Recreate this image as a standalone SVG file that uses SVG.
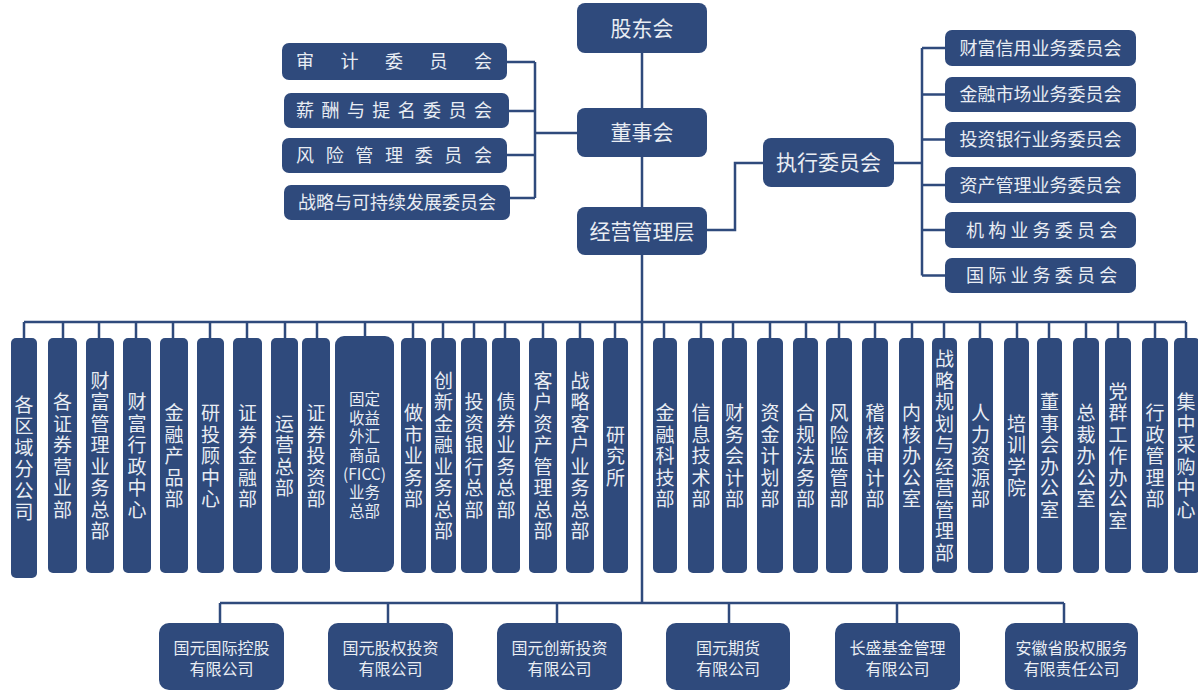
<svg xmlns="http://www.w3.org/2000/svg" width="1198" height="692" viewBox="0 0 1198 692">
<style>
.b{fill:#2f4a7c}
.t{fill:#e9edf3;font-family:"Noto Sans CJK SC","Noto Sans",sans-serif;text-anchor:middle}
.f21{font-size:21px}
.f18{font-size:18px}
.f16{font-size:16px}
.f19{font-size:19px}
.f17{font-size:15.5px}
.c{fill:none;stroke:#2f4a7c;stroke-width:2.5}
</style>
<rect width="1198" height="692" fill="#ffffff"/>
<g id="connectors" class="c">
<path d="M642 53V108M642 157V207M642 255V603"/>
<path d="M577 133H535M535 62V198M507 62H535M509 111H535M507 155H535M510 198H535"/>
<path d="M707 230H735V163H763M894 163H922M922 48V275.5M922 48H945M922 94.5H945M922 139.5H945M922 185H945M922 230H945M922 275.5H945"/>
<path d="M24 322H1186M24 322V338M63 322V338M99 322V338M136 322V338M173 322V338M210 322V338M247 322V338M285 322V338M317 322V338M365 322V336M413 322V338M443 322V338M474 322V338M505 322V338M543 322V338M580 322V338M615 322V338M664 322V338M701 322V338M733 322V338M770 322V338M806 322V338M839 322V338M875 322V338M912 322V338M944 322V338M980 322V338M1017 322V338M1049 322V338M1086 322V338M1118 322V338M1155 322V338M1186 322V338"/>
<path d="M220 603H1064M220 603V623M388 603V623M557 603V623M729 603V623M897 603V623M1064 603V623"/>
</g>
<g id="n-gudong"><rect class="b" x="577" y="3" width="130" height="50" rx="8"/><text class="t f21" x="642" y="36">股东会</text></g>
<g id="n-dongshi"><rect class="b" x="577" y="108" width="130" height="49" rx="8"/><text class="t f21" x="642" y="140">董事会</text></g>
<g id="n-jingying"><rect class="b" x="577" y="207" width="130" height="48" rx="8"/><text class="t f21" x="642" y="239">经营管理层</text></g>
<g id="n-zhixing"><rect class="b" x="763" y="138" width="131" height="49" rx="8"/><text class="t f21" x="828.5" y="170">执行委员会</text></g>

<g id="n-shenji"><rect class="b" x="282" y="43" width="225" height="37" rx="7"/><text class="t f18" x="305 349.5 394 438.5 483" y="67.5">审计委员会</text></g>
<g id="n-xinchou"><rect class="b" x="284" y="93" width="225" height="35" rx="7"/><text class="t f18" x="305 330.4 355.9 381.3 406.7 432.1 457.6 483" y="117">薪酬与提名委员会</text></g>
<g id="n-fengxian"><rect class="b" x="282" y="138" width="225" height="35" rx="7"/><text class="t f18" x="305 334.7 364.3 394 423.7 453.3 483" y="162">风险管理委员会</text></g>
<g id="n-zhanlue"><rect class="b" x="284" y="185" width="226" height="35" rx="7"/><text class="t f18" x="397" y="208.5">战略与可持续发展委员会</text></g>

<g id="n-caifu"><rect class="b" x="945" y="30" width="191" height="36" rx="7"/><text class="t f18" x="1040.5" y="54.5">财富信用业务委员会</text></g>
<g id="n-jinrong"><rect class="b" x="945" y="77" width="191" height="35" rx="7"/><text class="t f18" x="1040.5" y="101">金融市场业务委员会</text></g>
<g id="n-touzi"><rect class="b" x="945" y="122" width="191" height="35" rx="7"/><text class="t f18" x="1040.5" y="146">投资银行业务委员会</text></g>
<g id="n-zichan"><rect class="b" x="945" y="167" width="191" height="36" rx="7"/><text class="t f18" x="1040.5" y="191.5">资产管理业务委员会</text></g>
<g id="n-jigou"><rect class="b" x="945" y="212" width="191" height="36" rx="7"/><text class="t f18" x="975 997.2 1019.4 1041.6 1063.8 1086 1108.2" y="236.5">机构业务委员会</text></g>
<g id="n-guoji"><rect class="b" x="945" y="258" width="191" height="35" rx="7"/><text class="t f18" x="975 997.2 1019.4 1041.6 1063.8 1086 1108.2" y="282">国际业务委员会</text></g>

<g id="d01"><rect class="b" x="11" y="338" width="26" height="240" rx="5"/><text class="t f19" x="24 24 24 24 24 24" y="411.5 433 454.5 476 497.5 519">各区域分公司</text></g>
<g id="d02"><rect class="b" x="48" y="338" width="29" height="235" rx="5"/><text class="t f19" x="62.5 62.5 62.5 62.5 62.5 62.5" y="409.25 430.75 452.25 473.75 495.25 516.75">各证券营业部</text></g>
<g id="d03"><rect class="b" x="86" y="338" width="28" height="235" rx="5"/><text class="t f19" x="100 100 100 100 100 100 100 100" y="387.75 409.25 430.75 452.25 473.75 495.25 516.75 538.25">财富管理业务总部</text></g>
<g id="d04"><rect class="b" x="123" y="338" width="28" height="235" rx="5"/><text class="t f19" x="137 137 137 137 137 137" y="409.25 430.75 452.25 473.75 495.25 516.75">财富行政中心</text></g>
<g id="d05"><rect class="b" x="160" y="338" width="28" height="235" rx="5"/><text class="t f19" x="174 174 174 174 174" y="420 441.5 463 484.5 506">金融产品部</text></g>
<g id="d06"><rect class="b" x="197" y="338" width="27" height="235" rx="5"/><text class="t f19" x="210.5 210.5 210.5 210.5 210.5" y="420 441.5 463 484.5 506">研投顾中心</text></g>
<g id="d07"><rect class="b" x="233" y="338" width="29" height="235" rx="5"/><text class="t f19" x="247.5 247.5 247.5 247.5 247.5" y="420 441.5 463 484.5 506">证券金融部</text></g>
<g id="d08"><rect class="b" x="271" y="338" width="27" height="235" rx="5"/><text class="t f19" x="284.5 284.5 284.5 284.5" y="430.75 452.25 473.75 495.25">运营总部</text></g>
<g id="d09"><rect class="b" x="302" y="338" width="28" height="235" rx="5"/><text class="t f19" x="316 316 316 316 316" y="420 441.5 463 484.5 506">证券投资部</text></g>
<g id="d10"><rect class="b" x="335" y="336" width="59" height="236" rx="9"/><text class="t f17" x="364.5" y="404.9">固定<tspan x="364.5" y="423.6">收益</tspan><tspan x="364.5" y="442.3">外汇</tspan><tspan x="364.5" y="461">商品</tspan><tspan x="364.5" y="479.7">(FICC)</tspan><tspan x="364.5" y="498.4">业务</tspan><tspan x="364.5" y="517.1">总部</tspan></text></g>
<g id="d11"><rect class="b" x="401" y="338" width="25" height="235" rx="5"/><text class="t f19" x="413.5 413.5 413.5 413.5 413.5" y="420 441.5 463 484.5 506">做市业务部</text></g>
<g id="d12"><rect class="b" x="431" y="338" width="25" height="235" rx="5"/><text class="t f19" x="443.5 443.5 443.5 443.5 443.5 443.5 443.5 443.5" y="387.75 409.25 430.75 452.25 473.75 495.25 516.75 538.25">创新金融业务总部</text></g>
<g id="d13"><rect class="b" x="461" y="338" width="26" height="235" rx="5"/><text class="t f19" x="474 474 474 474 474 474" y="409.25 430.75 452.25 473.75 495.25 516.75">投资银行总部</text></g>
<g id="d14"><rect class="b" x="492" y="338" width="28" height="235" rx="5"/><text class="t f19" x="506 506 506 506 506 506" y="409.25 430.75 452.25 473.75 495.25 516.75">债券业务总部</text></g>
<g id="d15"><rect class="b" x="529" y="338" width="28" height="235" rx="5"/><text class="t f19" x="543 543 543 543 543 543 543 543" y="387.75 409.25 430.75 452.25 473.75 495.25 516.75 538.25">客户资产管理总部</text></g>
<g id="d16"><rect class="b" x="566" y="338" width="28" height="235" rx="5"/><text class="t f19" x="580 580 580 580 580 580 580 580" y="387.75 409.25 430.75 452.25 473.75 495.25 516.75 538.25">战略客户业务总部</text></g>
<g id="d17"><rect class="b" x="603" y="338" width="25" height="235" rx="5"/><text class="t f19" x="615.5 615.5 615.5" y="441.5 463 484.5">研究所</text></g>
<g id="d18"><rect class="b" x="653" y="338" width="24" height="235" rx="5"/><text class="t f19" x="665 665 665 665 665" y="420 441.5 463 484.5 506">金融科技部</text></g>
<g id="d19"><rect class="b" x="688" y="338" width="26" height="235" rx="5"/><text class="t f19" x="701 701 701 701 701" y="420 441.5 463 484.5 506">信息技术部</text></g>
<g id="d20"><rect class="b" x="722" y="338" width="25" height="235" rx="5"/><text class="t f19" x="734.5 734.5 734.5 734.5 734.5" y="420 441.5 463 484.5 506">财务会计部</text></g>
<g id="d21"><rect class="b" x="757" y="338" width="26" height="235" rx="5"/><text class="t f19" x="770 770 770 770 770" y="420 441.5 463 484.5 506">资金计划部</text></g>
<g id="d22"><rect class="b" x="793" y="338" width="25" height="235" rx="5"/><text class="t f19" x="805.5 805.5 805.5 805.5 805.5" y="420 441.5 463 484.5 506">合规法务部</text></g>
<g id="d23"><rect class="b" x="826" y="338" width="26" height="235" rx="5"/><text class="t f19" x="839 839 839 839 839" y="420 441.5 463 484.5 506">风险监管部</text></g>
<g id="d24"><rect class="b" x="862" y="338" width="26" height="235" rx="5"/><text class="t f19" x="875 875 875 875 875" y="420 441.5 463 484.5 506">稽核审计部</text></g>
<g id="d25"><rect class="b" x="899" y="338" width="25" height="235" rx="5"/><text class="t f19" x="911.5 911.5 911.5 911.5 911.5" y="420 441.5 463 484.5 506">内核办公室</text></g>
<g id="d26"><rect class="b" x="932" y="338" width="25" height="235" rx="5"/><text class="t f19" x="944.5 944.5 944.5 944.5 944.5 944.5 944.5 944.5 944.5 944.5" y="366.25 387.75 409.25 430.75 452.25 473.75 495.25 516.75 538.25 559.75">战略规划与经营管理部</text></g>
<g id="d27"><rect class="b" x="968" y="338" width="25" height="235" rx="5"/><text class="t f19" x="980.5 980.5 980.5 980.5 980.5" y="420 441.5 463 484.5 506">人力资源部</text></g>
<g id="d28"><rect class="b" x="1004" y="338" width="25" height="235" rx="5"/><text class="t f19" x="1016.5 1016.5 1016.5 1016.5" y="430.75 452.25 473.75 495.25">培训学院</text></g>
<g id="d29"><rect class="b" x="1037" y="338" width="25" height="235" rx="5"/><text class="t f19" x="1049.5 1049.5 1049.5 1049.5 1049.5 1049.5" y="409.25 430.75 452.25 473.75 495.25 516.75">董事会办公室</text></g>
<g id="d30"><rect class="b" x="1073" y="338" width="26" height="235" rx="5"/><text class="t f19" x="1086 1086 1086 1086 1086" y="420 441.5 463 484.5 506">总裁办公室</text></g>
<g id="d31"><rect class="b" x="1105" y="338" width="26" height="235" rx="5"/><text class="t f19" x="1118 1118 1118 1118 1118 1118 1118" y="398.5 420 441.5 463 484.5 506 527.5">党群工作办公室</text></g>
<g id="d32"><rect class="b" x="1142" y="338" width="26" height="235" rx="5"/><text class="t f19" x="1155 1155 1155 1155 1155" y="420 441.5 463 484.5 506">行政管理部</text></g>
<g id="d33"><rect class="b" x="1174" y="338" width="26" height="235" rx="5"/><text class="t f19" x="1186 1186 1186 1186 1186 1186" y="409.25 430.75 452.25 473.75 495.25 516.75">集中采购中心</text></g>

<g id="s1"><rect class="b" x="159" y="623" width="125" height="67" rx="10"/><text class="t f16" x="221.5" y="653.5">国元国际控股<tspan x="221.5" y="674.5">有限公司</tspan></text></g>
<g id="s2"><rect class="b" x="328" y="623" width="125" height="67" rx="10"/><text class="t f16" x="390.5" y="653.5">国元股权投资<tspan x="390.5" y="674.5">有限公司</tspan></text></g>
<g id="s3"><rect class="b" x="497" y="623" width="125" height="67" rx="10"/><text class="t f16" x="559.5" y="653.5">国元创新投资<tspan x="559.5" y="674.5">有限公司</tspan></text></g>
<g id="s4"><rect class="b" x="666" y="623" width="124" height="67" rx="10"/><text class="t f16" x="728" y="653.5">国元期货<tspan x="728" y="674.5">有限公司</tspan></text></g>
<g id="s5"><rect class="b" x="835" y="623" width="125" height="67" rx="10"/><text class="t f16" x="897.5" y="653.5">长盛基金管理<tspan x="897.5" y="674.5">有限公司</tspan></text></g>
<g id="s6"><rect class="b" x="1005" y="623" width="133" height="67" rx="10"/><text class="t f16" x="1071.5" y="653.5">安徽省股权服务<tspan x="1071.5" y="674.5">有限责任公司</tspan></text></g>
</svg>
